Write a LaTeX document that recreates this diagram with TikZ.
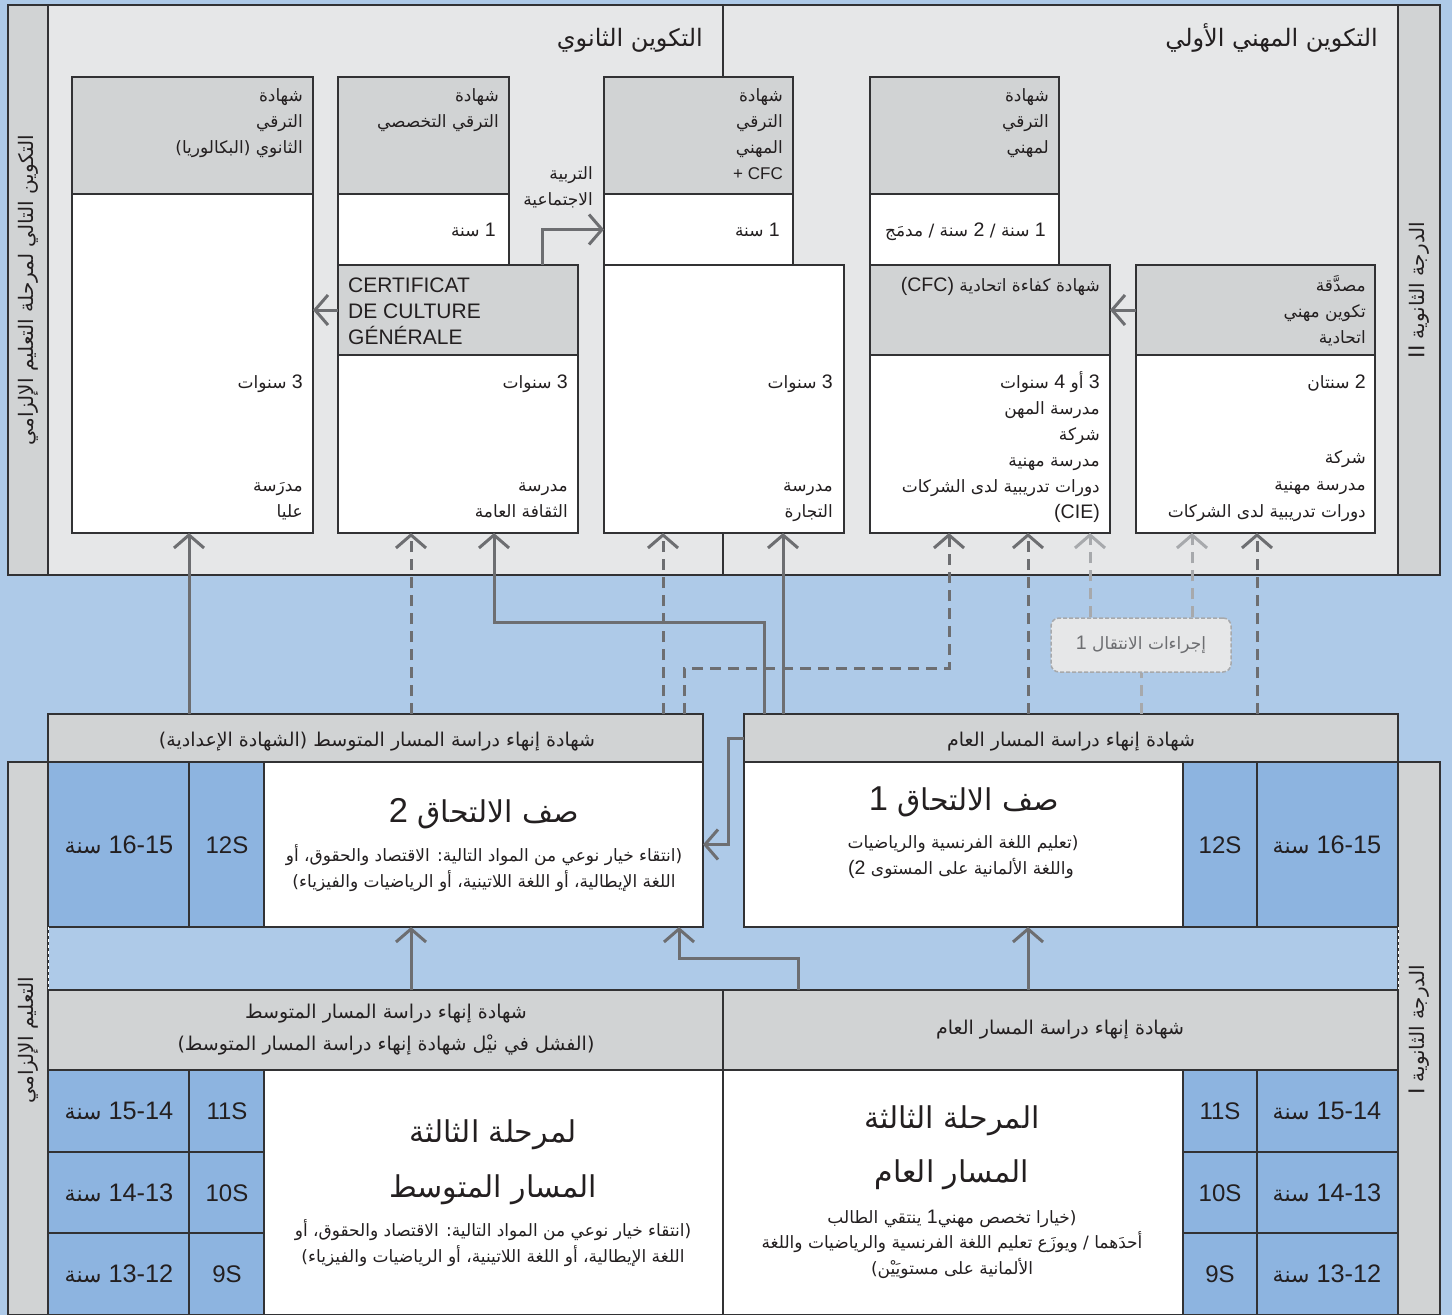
\documentclass[tikz,border=0pt]{standalone}
\usepackage{fontspec}
\setmainfont{Liberation Sans}
\newfontfamily\arabicfont[Script=Arabic,Scale=1.0]{DejaVu Sans}
\newfontfamily\latinbig[Scale=1.15]{Liberation Sans}
\TeXXeTstate=1
\usetikzlibrary{arrows.meta}

\definecolor{bgblue}{RGB}{174,202,232}
\definecolor{panelgray}{RGB}{230,231,232}
\definecolor{hdrgray}{RGB}{209,211,212}
\definecolor{cellblue}{RGB}{141,180,224}
\definecolor{linec}{RGB}{50,50,52}
\definecolor{arrowc}{RGB}{109,110,113}
\definecolor{lightarrow}{RGB}{167,169,172}
\definecolor{txtc}{RGB}{35,31,32}

\newcommand{\ar}[1]{{\arabicfont\beginR #1\endR}}
\newcommand{\lt}[1]{\beginL{\latinbig #1}\endL{}}
% box from its corners: name, x1, y1, x2, y2, style
\newcommand{\rect}[6]{\node[#6,anchor=north west,minimum width=#4pt-#2pt,minimum height=#5pt-#3pt] (#1) at (#2,#3) {};}

\tikzset{
  frame/.style={draw=linec,line width=1.4pt,inner sep=0pt,outer sep=0pt},
  panel/.style={frame,fill=panelgray},
  hdr/.style={frame,fill=hdrgray},
  body/.style={frame,fill=white},
  cell/.style={frame,fill=cellblue},
  txt/.style={text=txtc,inner sep=0pt,font=\fontsize{17}{22}\selectfont},
  head/.style={txt,font=\fontsize{24}{28}\selectfont},
  title/.style={txt,font=\fontsize{30}{34}\selectfont},
  bar/.style={txt,font=\fontsize{19}{24}\selectfont},
  age/.style={txt,font=\fontsize{22}{26}\selectfont},
  grade/.style={txt,font=\fontsize{24}{26}\selectfont},
  latin/.style={txt,font=\fontsize{21}{24}\selectfont},
  side/.style={txt,font=\fontsize{20}{24}\selectfont,rotate=90},
  arr/.style={draw=arrowc,line width=3pt,-{Straight Barb[length=13pt,width=30pt]}},
  darr/.style={arr,dash pattern=on 11pt off 7pt},
  larr/.style={darr,draw=lightarrow},
  trans/.style={draw=lightarrow,dash pattern=on 4pt off 2pt,line width=1.5pt,fill=panelgray,
    rounded corners=8pt,minimum width=180pt,minimum height=54pt,text=arrowc,
    font=\fontsize{17}{22}\selectfont},
}

\begin{document}
\begin{tikzpicture}[x=1pt,y=-1pt]
\useasboundingbox (0,0) rectangle (1452,1315);
\fill[bgblue] (0,0) rectangle (1452,1315);

% upper part
\rect{upper}{48}{5}{1398}{575}{panel}
\rect{stripL}{8}{5}{48}{575}{hdr}
\rect{stripR}{1398}{5}{1440}{575}{hdr}
\draw[draw=linec,line width=1.4pt] (upper.north) -- (upper.south);
\node[side] (lblL) at (stripL.center) {\ar{التكوين التالي لمرحلة التعليم الإلزامي}};
\node[side] (lblR) at (stripR.center) {\ar{الدرجة الثانوية \lt{II}}};
\node[head,anchor=base east] (hSec) at (703,46) {\ar{التكوين الثانوي}};
\node[head,anchor=base east] (hVoc) at (1378,46) {\ar{التكوين المهني الأولي}};

\rect{colAh}{72}{77}{313}{194}{hdr}
\rect{colA}{72}{194}{313}{533}{body}
\rect{colBh}{338}{77}{509}{194}{hdr}
\rect{colBb}{338}{194}{509}{265}{body}
\rect{cgh}{338}{265}{578}{355}{hdr}
\rect{cgb}{338}{355}{578}{533}{body}
\rect{colCh}{604}{77}{793}{194}{hdr}
\rect{colCb}{604}{194}{793}{265}{body}
\rect{colCl}{604}{265}{844}{533}{body}
\rect{colDh}{870}{77}{1059}{194}{hdr}
\rect{colDb}{870}{194}{1059}{265}{body}
\rect{cfch}{870}{265}{1110}{355}{hdr}
\rect{cfcb}{870}{355}{1110}{533}{body}
\rect{eh}{1136}{265}{1375}{355}{hdr}
\rect{eb}{1136}{355}{1375}{533}{body}

\foreach \t [count=\i] in {شهادة,الترقي,الثانوي (البكالوريا)}
  \node[txt,anchor=base east] (tAh\i) at (303,75+26*\i) {\ar{\t}};
\foreach \t [count=\i] in {شهادة,الترقي التخصصي}
  \node[txt,anchor=base east] (tBh\i) at (499,75+26*\i) {\ar{\t}};
\foreach \t [count=\i] in {شهادة,الترقي,المهني}
  \node[txt,anchor=base east] (tCh\i) at (783,75+26*\i) {\ar{\t}};
\node[txt,anchor=base east] (tCh4) at (783,179) {+ CFC};
\foreach \t [count=\i] in {شهادة,الترقي,لمهني}
  \node[txt,anchor=base east] (tDh\i) at (1049,75+26*\i) {\ar{\t}};
\foreach \t [count=\i] in {التربية,الاجتماعية}
  \node[txt,anchor=base east] (tEdu\i) at (593,153+26*\i) {\ar{\t}};

\node[txt,anchor=base east] (tBy) at (496,236) {\ar{\lt{1} سنة}};
\node[txt,anchor=base east] (tCy) at (780,236) {\ar{\lt{1} سنة}};
\node[txt,anchor=base east] (tDy) at (1046,236) {\ar{\lt{1} سنة / \lt{2} سنة / مدمَج}};

\foreach \t [count=\i] in {CERTIFICAT,DE CULTURE,GÉNÉRALE}
  \node[latin,anchor=base west] (tCg\i) at (348,266+26*\i) {\t};
\node[txt,anchor=base east] (tCfc) at (1100,291) {\ar{شهادة كفاءة اتحادية \lt{(CFC)}}};
\foreach \t [count=\i] in {مصدَّقة,تكوين مهني,اتحادية}
  \node[txt,anchor=base east] (tEh\i) at (1366,265+26*\i) {\ar{\t}};

\node[txt,anchor=base east] (tAy) at (303,388) {\ar{\lt{3} سنوات}};
\node[txt,anchor=base east] (tB2y) at (568,388) {\ar{\lt{3} سنوات}};
\node[txt,anchor=base east] (tC2y) at (833,388) {\ar{\lt{3} سنوات}};
\foreach \t [count=\i] in {مدرَسة,عليا}
  \node[txt,anchor=base east] (tAs\i) at (303,465+26*\i) {\ar{\t}};
\foreach \t [count=\i] in {مدرسة,الثقافة العامة}
  \node[txt,anchor=base east] (tBs\i) at (568,465+26*\i) {\ar{\t}};
\foreach \t [count=\i] in {مدرسة,التجارة}
  \node[txt,anchor=base east] (tCs\i) at (833,465+26*\i) {\ar{\t}};
\foreach \t [count=\i] in {\lt{3} أو \lt{4} سنوات,مدرسة المهن,شركة,مدرسة مهنية,دورات تدريبية لدى الشركات,\lt{(CIE)}}
  \node[txt,anchor=base east] (tDs\i) at (1100,362+26*\i) {\ar{\t}};
\node[txt,anchor=base east] (tEy) at (1366,388) {\ar{\lt{2} سنتان}};
\foreach \t [count=\i] in {شركة,مدرسة مهنية,دورات تدريبية لدى الشركات}
  \node[txt,anchor=base east] (tEs\i) at (1366,436+27*\i) {\ar{\t}};

% certificates between the two parts
\rect{certM}{48}{714}{703}{762}{hdr}
\rect{certG}{744}{714}{1398}{762}{hdr}
\node[bar,anchor=base] (tCertM) at (377,746) {\ar{شهادة إنهاء دراسة المسار المتوسط (الشهادة الإعدادية)}};
\node[bar,anchor=base] (tCertG) at (1071,746) {\ar{شهادة إنهاء دراسة المسار العام}};
\node[trans] (tr) at (1141,645) {\ar{إجراءات الانتقال \lt{1}}};

% lower part
\rect{stripLL}{8}{762}{48}{1315}{hdr}
\rect{stripRL}{1398}{762}{1440}{1315}{hdr}
\node[side] (lblLL) at (28,1040) {\ar{التعليم الإلزامي}};
\node[side] (lblRL) at (1419,1030) {\ar{الدرجة الثانوية \lt{I}}};

\rect{aL12}{48}{762}{189}{927}{cell}
\rect{gL12}{189}{762}{264}{927}{cell}
\rect{r12L}{264}{762}{703}{927}{body}
\rect{r12R}{744}{762}{1183}{927}{body}
\rect{gR12}{1183}{762}{1257}{927}{cell}
\rect{aR12}{1257}{762}{1398}{927}{cell}
\draw[white,dashed,line width=1pt] (aL12.south west) -- (48,990);
\draw[white,dashed,line width=1pt] (aR12.south east) -- (1398,990);
\node[age,anchor=base] (tAL12) at (119,853) {\ar{\lt{16-15} سنة}};
\node[grade,anchor=base] (tGL12) at (227,853) {12S};
\node[grade,anchor=base] (tGR12) at (1220,853) {12S};
\node[age,anchor=base] (tAR12) at (1327,853) {\ar{\lt{16-15} سنة}};
\node[title,anchor=base] (tR12L) at (484,822) {\ar{صف الالتحاق \lt{2}}};
\node[title,anchor=base] (tR12R) at (964,810) {\ar{صف الالتحاق \lt{1}}};
\node[txt,anchor=base] (tR12L1) at (484,861) {\ar{(انتقاء خيار نوعي من المواد التالية: الاقتصاد والحقوق، أو}};
\node[txt,anchor=base] (tR12L2) at (484,887) {\ar{اللغة الإيطالية، أو اللغة اللاتينية، أو الرياضيات والفيزياء)}};
\node[txt,anchor=base] (tR12R1) at (963,848) {\ar{(تعليم اللغة الفرنسية والرياضيات}};
\node[txt,anchor=base] (tR12R2) at (961,874) {\ar{واللغة الألمانية على المستوى \lt{(2}}};

\rect{cb2L}{48}{990}{723}{1070}{hdr}
\rect{cb2R}{723}{990}{1398}{1070}{hdr}
\node[bar,anchor=base] (tCbL1) at (386,1018) {\ar{شهادة إنهاء دراسة المسار المتوسط}};
\node[bar,anchor=base] (tCbL2) at (386,1050) {\ar{(الفشل في نيْل شهادة إنهاء دراسة المسار المتوسط)}};
\node[bar,anchor=base] (tCbR) at (1060,1034) {\ar{شهادة إنهاء دراسة المسار العام}};

\rect{midL}{264}{1070}{723}{1315}{body}
\rect{midR}{723}{1070}{1183}{1315}{body}
\foreach \ya/\yb/\ag/\gr in {1070/1152/15-14/11S,1152/1233/14-13/10S,1233/1315/13-12/9S}{
  \rect{aL\gr}{48}{\ya}{189}{\yb}{cell}
  \rect{gL\gr}{189}{\ya}{264}{\yb}{cell}
  \rect{gR\gr}{1183}{\ya}{1257}{\yb}{cell}
  \rect{aR\gr}{1257}{\ya}{1398}{\yb}{cell}
  \node[age,anchor=base] (tAL\gr) at (119,\ya+49) {\ar{\lt{\ag} سنة}};
  \node[grade,anchor=base] (tGL\gr) at (227,\ya+49) {\gr};
  \node[grade,anchor=base] (tGR\gr) at (1220,\ya+49) {\gr};
  \node[age,anchor=base] (tAR\gr) at (1327,\ya+49) {\ar{\lt{\ag} سنة}};
}
\node[title,anchor=base] (tMidL1) at (493,1142) {\ar{لمرحلة الثالثة}};
\node[title,anchor=base] (tMidL2) at (493,1197) {\ar{المسار المتوسط}};
\node[txt,anchor=base] (tMidL3) at (493,1236) {\ar{(انتقاء خيار نوعي من المواد التالية: الاقتصاد والحقوق، أو}};
\node[txt,anchor=base] (tMidL4) at (493,1262) {\ar{اللغة الإيطالية، أو اللغة اللاتينية، أو الرياضيات والفيزياء)}};
\node[title,anchor=base] (tMidR1) at (952,1128) {\ar{المرحلة الثالثة}};
\node[title,anchor=base] (tMidR2) at (952,1182) {\ar{المسار العام}};
\node[txt,anchor=base] (tMidR3) at (952,1223) {\ar{(خيارا تخصص مهني\lt{1} ينتقي الطالب}};
\node[txt,anchor=base] (tMidR4) at (952,1248) {\ar{أحدَهما / ويوزَع تعليم اللغة الفرنسية والرياضيات واللغة}};
\node[txt,anchor=base] (tMidR5) at (952,1274) {\ar{الألمانية على مستويَيْن)}};

% where the connectors run
\coordinate (pA) at (189,0);
\coordinate (pB1) at (411,0);
\coordinate (pB2) at (494,622);
\coordinate (pG) at (764,0);
\coordinate (pC1) at (663,0);
\coordinate (pC2) at (684,0);
\coordinate (pD1) at (949,668);
\coordinate (pC3) at (783,0);
\coordinate (pD2) at (1028,0);
\coordinate (pD3) at (1090,0);
\coordinate (pE1) at (1192,0);
\coordinate (pE2) at (1257,0);
\coordinate (pH) at (542,0);
\coordinate (pK) at (728,0);
\coordinate (pM) at (798,0);
\coordinate (pN) at (679,958);

\draw[arr] (certM.north -| pA) -- (pA |- colA.south);
\draw[darr] (certM.north -| pB1) -- (pB1 |- cgb.south);
\draw[arr] (certG.north -| pG) |- (pB2) -- (pB2 |- cgb.south);
\draw[darr] (certM.north -| pC1) -- (pC1 |- colCl.south);
\draw[darr] (certM.north -| pC2) |- (pD1) -- (pD1 |- cfcb.south);
\draw[arr] (certG.north -| pC3) -- (pC3 |- colCl.south);
\draw[darr] (certG.north -| pD2) -- (pD2 |- cfcb.south);
\draw[larr] (tr.north -| pD3) -- (pD3 |- cfcb.south);
\draw[larr] (tr.north -| pE1) -- (pE1 |- eb.south);
\draw[darr] (certG.north -| pE2) -- (pE2 |- eb.south);
\draw[larr,-] (certG.north -| tr.south) -- (tr.south);
\draw[arr] (cgh.west) -- (cgh.west -| colA.east);
\draw[arr] (eh.west) -- (eh.west -| cfch.east);
\draw[arr] (cgh.north -| pH) |- (colCb.west);
\draw[arr] (certG.west) -- (certG.west -| pK) |- (r12L.east);
\draw[arr] (cb2L.north -| pB1) -- (pB1 |- r12L.south);
\draw[arr] (cb2R.north -| pD2) -- (pD2 |- r12R.south);
\draw[arr] (cb2R.north -| pM) |- (pN) -- (pN |- r12L.south);
\end{tikzpicture}
\end{document}
